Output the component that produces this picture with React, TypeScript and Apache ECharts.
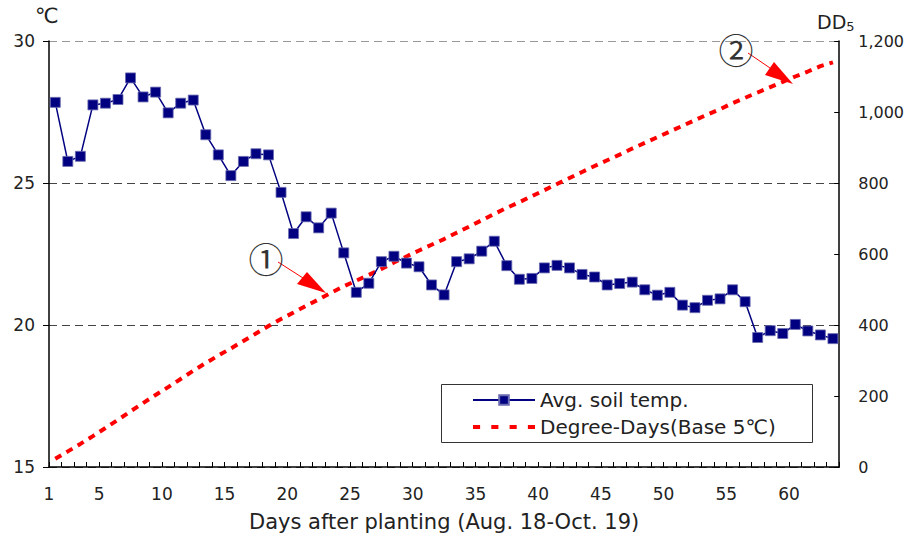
import React, { useEffect, useRef } from "react";
import * as echarts from "echarts";

const days = [
  "1", "2", "3", "4", "5", "6", "7", "8", "9", "10",
  "11", "12", "13", "14", "15", "16", "17", "18", "19", "20",
  "21", "22", "23", "24", "25", "26", "27", "28", "29", "30",
  "31", "32", "33", "34", "35", "36", "37", "38", "39", "40",
  "41", "42", "43", "44", "45", "46", "47", "48", "49", "50",
  "51", "52", "53", "54", "55", "56", "57", "58", "59", "60",
  "61", "62", "63",
];

const soilTemp = [
  27.84, 25.76, 25.94, 27.75, 27.81, 27.94, 28.7, 28.03, 28.2, 27.47,
  27.81, 27.92, 26.7, 25.99, 25.26, 25.76, 26.03, 25.99, 24.67, 23.22,
  23.81, 23.42, 23.94, 22.54, 21.15, 21.47, 22.23, 22.42, 22.18, 22.05,
  21.41, 21.06, 22.23, 22.33, 22.6, 22.95, 22.09, 21.61, 21.64, 22.01,
  22.1, 22.01, 21.78, 21.69, 21.41, 21.46, 21.51, 21.24, 21.05, 21.15,
  20.7, 20.61, 20.87, 20.92, 21.24, 20.82, 19.56, 19.8, 19.7, 20.02,
  19.79, 19.65, 19.52,
];

const degreeDays = [
  23, 44, 65, 87, 110, 133, 157, 180, 203, 225,
  248, 271, 293, 314, 334, 355, 376, 397, 417, 435,
  454, 472, 491, 509, 525, 541, 558, 576, 593, 610,
  626, 642, 660, 677, 695, 713, 730, 746, 763, 780,
  797, 814, 831, 848, 864, 880, 897, 913, 929, 945,
  961, 977, 993, 1008, 1025, 1040, 1055, 1070, 1085, 1100,
  1114, 1129, 1140,
];

const dayTickLabels = [1, 5, 10, 15, 20, 25, 30, 35, 40, 45, 50, 55, 60];

const FONT = "DejaVu Sans";
const TEXT = "#222";
const DASH_ICON = "path://M0,0h7v4h-7zM18,0h7v4h-7zM36,0h7v4h-7zM54,0h7v4h-7z";

export default function App() {
  const ref = useRef<HTMLDivElement>(null);

  useEffect(() => {
    if (!ref.current) return;
    const chart = echarts.init(ref.current, undefined, { renderer: "svg" });
    chart.setOption({
      animation: false,
      backgroundColor: "#fff",
      textStyle: { fontFamily: FONT },
      grid: { left: 49, right: 64, top: 41, bottom: 65, containLabel: false },
      legend: {
        show: true,
        orient: "vertical",
        left: 472,
        top: 390,
        padding: 0,
        itemWidth: 62,
        itemHeight: 12,
        itemGap: 7,
        textStyle: { fontFamily: FONT, fontSize: 20, color: TEXT },
        data: [
          { name: "Avg. soil temp." },
          { name: "Degree-Days(Base 5℃)", icon: DASH_ICON, itemStyle: { color: "#ff0000" } },
        ],
      },
      xAxis: [
        {
          type: "category",
          data: days,
          boundaryGap: true,
          axisLine: { lineStyle: { color: "#000", width: 1.5 } },
          axisTick: { show: true, inside: true, length: 5, interval: 0, lineStyle: { color: "#000" } },
          axisLabel: { show: false },
          splitLine: { show: false },
        },
        {
          type: "value",
          position: "bottom",
          min: 1,
          max: 64,
          axisLine: { show: false },
          axisTick: { show: false },
          splitLine: { show: false },
          axisLabel: {
            customValues: dayTickLabels,
            margin: 18,
            fontFamily: FONT,
            fontSize: 17,
            color: TEXT,
          },
          name: "Days after planting (Aug. 18-Oct. 19)",
          nameLocation: "middle",
          nameGap: 44,
          nameTextStyle: { fontFamily: FONT, fontSize: 21, color: TEXT },
        },
      ],
      yAxis: [
        {
          type: "value",
          min: 15,
          max: 30,
          interval: 5,
          axisLine: { show: true, lineStyle: { color: "#000", width: 1.5 } },
          axisTick: { show: true, inside: false, length: 6, lineStyle: { color: "#000" } },
          axisLabel: { margin: 14, fontFamily: FONT, fontSize: 17, color: TEXT },
          splitLine: {
            show: true,
            lineStyle: { color: ["#444", "#444", "#444", "#999"], type: [8, 5], width: 1 },
          },
        },
        {
          type: "value",
          min: 0,
          max: 1200,
          interval: 200,
          position: "right",
          axisLine: { show: true, lineStyle: { color: "#000", width: 1.5 } },
          axisTick: { show: true, inside: true, length: 5, lineStyle: { color: "#000" } },
          axisLabel: {
            margin: 19,
            fontFamily: FONT,
            fontSize: 16,
            color: TEXT,
            formatter: (v: number) => v.toLocaleString("en-US"),
          },
          splitLine: { show: false },
        },
      ],
      series: [
        {
          name: "Degree-Days(Base 5℃)",
          type: "line",
          xAxisIndex: 0,
          yAxisIndex: 1,
          data: degreeDays,
          showSymbol: false,
          symbol: "none",
          lineStyle: { color: "#ff0000", width: 4, type: [7, 6] },
          itemStyle: { color: "#ff0000" },
          z: 2,
        },
        {
          name: "Avg. soil temp.",
          type: "line",
          xAxisIndex: 0,
          yAxisIndex: 0,
          data: soilTemp,
          symbol: "rect",
          symbolSize: 10,
          showSymbol: true,
          showAllSymbol: true,
          lineStyle: { color: "#000080", width: 1.5 },
          itemStyle: { color: "#000080", borderColor: "#6a6ab0", borderWidth: 0.8 },
          z: 3,
        },
      ],
      graphic: [
        {
          type: "rect",
          z: 1,
          shape: { x: 441.5, y: 384.5, width: 371, height: 58 },
          style: { fill: "#fff", stroke: "#333", lineWidth: 1 },
        },
        {
          type: "text",
          left: 35,
          top: 5,
          style: { text: "℃", fontFamily: FONT, fontSize: 21, fill: TEXT },
        },
        {
          type: "text",
          left: 817,
          top: 12,
          style: {
            text: "DD{s|5}",
            fontFamily: FONT,
            fontSize: 19,
            fill: TEXT,
            rich: { s: { fontSize: 13, fontFamily: FONT, fill: TEXT, verticalAlign: "bottom", padding: [10, 0, 0, 0] } },
          },
        },
        {
          type: "line",
          shape: { x1: 278, y1: 262, x2: 303, y2: 278 },
          style: { stroke: "#ff0000", lineWidth: 1 },
        },
        {
          type: "polygon",
          shape: { points: [[297, 284], [307, 272], [326, 293]] },
          style: { fill: "#ff0000" },
        },
        {
          type: "text",
          x: 266,
          y: 257,
          style: {
            text: "①",
            fontFamily: "Noto Sans CJK KR",
            fontSize: 35,
            fill: "#333",
            align: "center",
            verticalAlign: "middle",
          },
        },
        {
          type: "line",
          shape: { x1: 748, y1: 53, x2: 770, y2: 68 },
          style: { stroke: "#ff0000", lineWidth: 1 },
        },
        {
          type: "polygon",
          shape: { points: [[765, 75], [774, 62], [793, 84]] },
          style: { fill: "#ff0000" },
        },
        {
          type: "text",
          x: 736,
          y: 48,
          style: {
            text: "②",
            fontFamily: "Noto Sans CJK KR",
            fontSize: 35,
            fill: "#333",
            align: "center",
            verticalAlign: "middle",
          },
        },
      ],
    });
    return () => chart.dispose();
  }, []);

  return (
    <div
      ref={ref}
      style={{ position: "fixed", left: 0, top: 0, width: 907, height: 537, background: "#fff" }}
    />
  );
}
